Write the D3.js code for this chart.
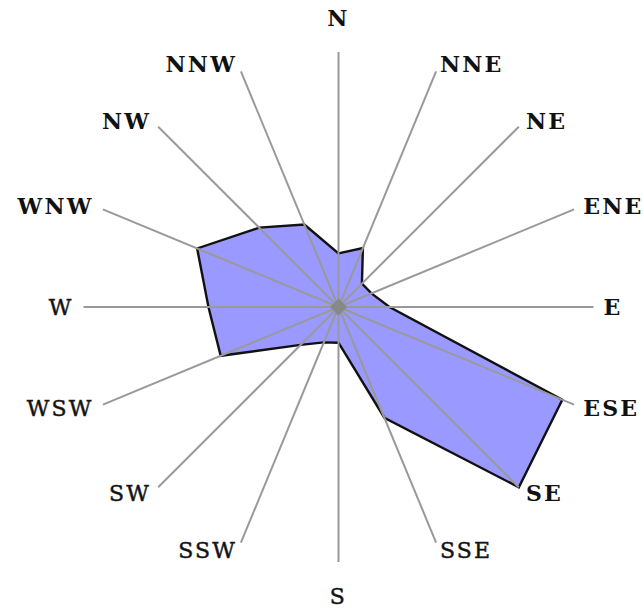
<!DOCTYPE html>
<html>
<head>
<meta charset="utf-8">
<script src="https://cdn.jsdelivr.net/npm/d3@7"></script>
<style>
  html, body { margin: 0; padding: 0; background: #ffffff; }
  svg { display: block; }
</style>
</head>
<body>
<script>
// ---- data ----
const directions = ["N","NNE","NE","ENE","E","ESE","SE","SSE","S","SSW","SW","WSW","W","WNW","NW","NNW"];
const frequencies = [21, 25, 13, 14, 20, 95, 100, 47, 14, 15, 21, 50, 51, 60, 44, 35];
const boldLabels = ["N","NNE","NE","ENE","E","ESE","SE","WNW","NW","NNW"];
const valueMax = 100;

// ---- layout ----
const W = 643, H = 609;
const cx = 338.5, cy = 307;
const R = 255;

const svg = d3.select("body").append("svg").attr("width", W).attr("height", H);
const g = svg.append("g").attr("transform", `translate(${cx},${cy})`);

const rScale = d3.scaleLinear().domain([0, valueMax]).range([0, R]);
const aScale = d3.scaleLinear().domain([0, directions.length]).range([0, 2 * Math.PI]);

const pts = directions.map((d, i) => {
  const a = aScale(i), r = rScale(frequencies[i]);
  return [r * Math.sin(a), -r * Math.cos(a)];
});

// polygon
g.append("path")
  .attr("d", d3.line().curve(d3.curveLinearClosed)(pts))
  .attr("fill", "#9999ff")
  .attr("stroke", "#111")
  .attr("stroke-width", 2.4)
  .attr("stroke-linejoin", "miter");

// axis spokes
g.selectAll("line.spoke").data(directions).enter().append("line")
  .attr("class", "spoke")
  .attr("x1", 0).attr("y1", 0)
  .attr("x2", (d, i) => R * Math.sin(aScale(i)))
  .attr("y2", (d, i) => -R * Math.cos(aScale(i)))
  .attr("stroke", "#999")
  .attr("stroke-width", 2);

// centre diamond
g.append("rect")
  .attr("x", -6).attr("y", -6).attr("width", 12).attr("height", 12)
  .attr("transform", "rotate(45)")
  .attr("fill", "#888");

// labels
g.selectAll("text.lab").data(directions).enter().append("text")
  .attr("class", "lab")
  .each(function(d, i) {
    const a = aScale(i);
    const s = Math.sin(a), c = Math.cos(a);
    const el = d3.select(this);
    let x, y, anchor;
    if (Math.abs(s) < 1e-6) {
      x = 0; y = -c * 289; anchor = "middle";
    } else {
      x = s * 265; y = -c * 263; anchor = s > 0 ? "start" : "end";
    }
    el.attr("x", x).attr("y", y).attr("text-anchor", anchor);
  })
  .attr("dy", "0.36em")
  .attr("font-family", "'DejaVu Serif', serif")
  .attr("font-size", 22)
  .attr("font-weight", d => boldLabels.includes(d) ? "bold" : "normal")
  .attr("stroke", d => boldLabels.includes(d) ? "none" : "#222")
  .attr("stroke-width", 0.5)
  .attr("letter-spacing", 2.2)
  .attr("fill", "#111")
  .text(d => d);
</script>
</body>
</html>
